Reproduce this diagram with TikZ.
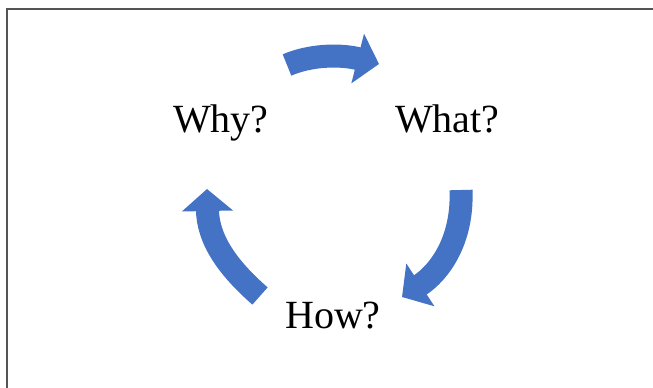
\documentclass[tikz,border=0pt]{standalone}
\usepackage{fontspec}
\setmainfont{Liberation Serif}
\usetikzlibrary{arrows.meta}
\definecolor{arrowblue}{HTML}{4472C4}
\definecolor{framegray}{HTML}{555555}
\tikzset{
  bigarrow/.style={draw=arrowblue, line width=23pt, line cap=butt,
    -{Triangle[length=22pt, width=50pt, fill=arrowblue]}},
  label/.style={inner sep=0pt, anchor=base west, font=\fontsize{40}{48}\selectfont}
}
\begin{document}
\begin{tikzpicture}[x=1pt, y=-1pt]
  \useasboundingbox (0,0) rectangle (653,388);
  \draw[framegray, line width=1.3pt] (7,388) -- (7,9) -- (653,9);
  \node[label] (why) at (173,132) {Why?};
  \node[label] (what) at (395,132) {What?};
  \node[label] (how) at (285,328) {How?};
  \coordinate (t1) at (287,65);
  \coordinate (h1) at (379,64);
  \coordinate (t2) at (461,190);
  \coordinate (h2) at (402,297);
  \coordinate (t3) at (260,296);
  \coordinate (h3) at (207,189);
  \draw[bigarrow] (t1) .. controls (310,55) and (340,54) .. (h1);
  \draw[bigarrow] (t2) .. controls (463,240) and (440,272) .. (h2);
  \draw[bigarrow] (t3) .. controls (228,268) and (208,240) .. (h3);
\end{tikzpicture}
\end{document}
